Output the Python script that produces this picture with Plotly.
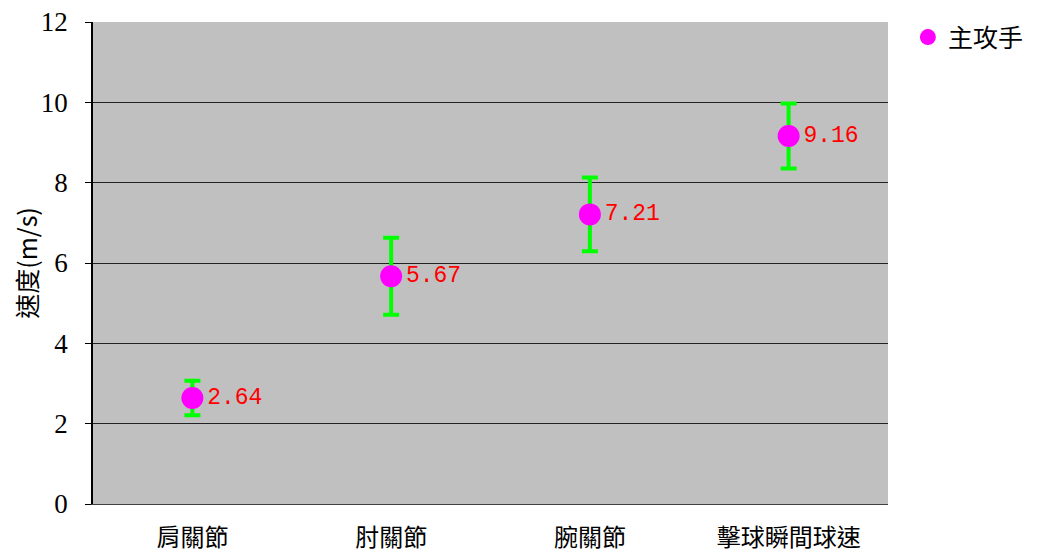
import plotly.graph_objects as go

categories = ["肩關節", "肘關節", "腕關節", "擊球瞬間球速"]
values = [2.64, 5.67, 7.21, 9.16]
errors = [0.43, 0.96, 0.92, 0.81]
labels = ["2.64", "5.67", "7.21", "9.16"]
series_name = "主攻手"
y_ticks = [0, 2, 4, 6, 8, 10, 12]

fig = go.Figure()
fig.add_trace(go.Scatter(
    x=categories, y=values, name=series_name,
    mode="markers+text",
    marker=dict(color="#FF00FF", size=22, line=dict(width=0)),
    error_y=dict(type="data", array=errors, visible=True, color="#00FF00", thickness=4, width=8),
    text=labels, textposition="middle right",
    textfont=dict(family="Liberation Mono, monospace", size=23, color="#FF0000"),
))

fig.update_layout(
    width=1042, height=551,
    margin=dict(l=85, r=162, t=14, b=55, autoexpand=False),
    paper_bgcolor="white", plot_bgcolor="#C0C0C0",
    showlegend=True,
    legend=dict(x=1.025, y=1.016, xanchor="left", yanchor="top", bgcolor="rgba(0,0,0,0)",
                font=dict(family="Noto Sans CJK TC", size=25, color="black"), itemsizing="trace"),
    font=dict(family="Liberation Serif", size=20, color="black"),
)
fig.update_xaxes(
    type="category", range=[-0.5, 3.5], showgrid=False, showline=True, linecolor="#404040",
    linewidth=1, tickfont=dict(family="Noto Sans CJK TC", size=24, color="black"),
    ticks="", ticklabelstandoff=12, automargin=False,
)
fig.update_yaxes(
    range=[0, 12], tickvals=y_ticks, showgrid=True, gridcolor="#222222", gridwidth=1,
    showline=True, linecolor="black", linewidth=1.5, ticks="outside", ticklen=6, tickcolor="black",
    tickfont=dict(family="Liberation Serif", size=27, color="black"), ticklabelstandoff=12,
    ticklabeloverflow="allow",
    title=dict(text="速度(m/s)", font=dict(family="Noto Sans CJK TC", size=25, color="black"), standoff=24),
    zeroline=False, automargin=False,
)

fig.write_html("out.html")
